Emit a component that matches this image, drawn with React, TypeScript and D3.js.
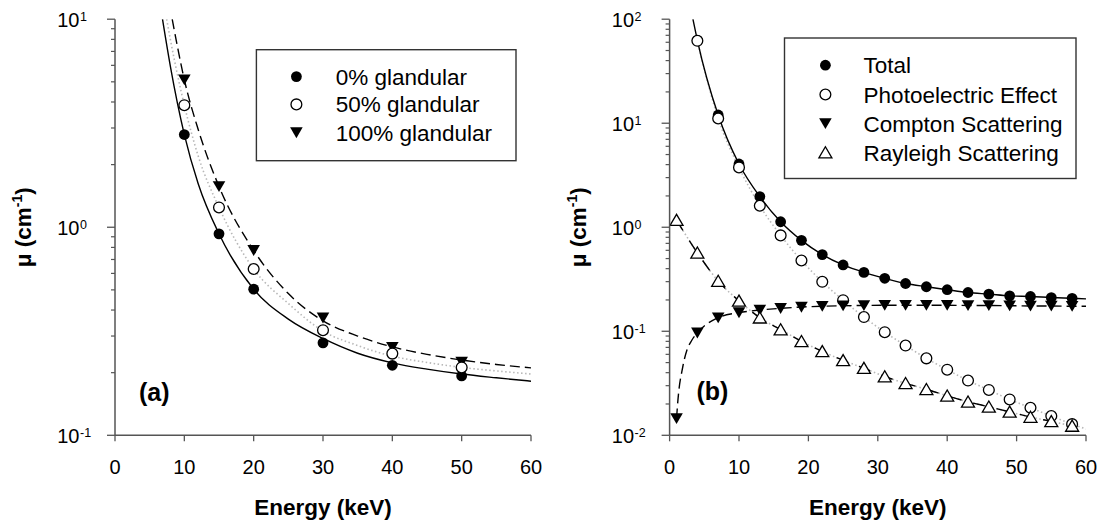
import React from 'react';
import * as d3 from 'd3';

// ---------- Panel (a) data ----------
const energyA = [10, 15, 20, 30, 40, 50];
const gland0 = [2.79, 0.93, 0.504, 0.278, 0.217, 0.193];
const gland50 = [3.86, 1.245, 0.63, 0.32, 0.247, 0.212];
const gland100 = [5.12, 1.57, 0.774, 0.367, 0.265, 0.225];

// fitted curves [E, mu]
const fit0: [number, number][] = [[6.85, 10], [8, 5.9], [10, 2.79], [12, 1.62], [15, 0.93], [20, 0.504], [25, 0.362], [30, 0.292], [35, 0.248], [40, 0.223], [45, 0.208], [50, 0.197], [55, 0.189], [60, 0.182]];
const fit50: [number, number][] = [[7.45, 10], [8, 7.95], [10, 3.86], [12, 2.2], [15, 1.245], [20, 0.63], [25, 0.43], [30, 0.317], [35, 0.27], [40, 0.24], [45, 0.224], [50, 0.212], [55, 0.204], [60, 0.197]];
const fit100: [number, number][] = [[8.25, 10], [9, 7.4], [10, 5.12], [12, 2.95], [15, 1.57], [20, 0.774], [25, 0.48], [30, 0.355], [35, 0.3], [40, 0.266], [45, 0.245], [50, 0.23], [55, 0.219], [60, 0.211]];

const legendA = ['0% glandular', '50% glandular', '100% glandular'];

// ---------- Panel (b) data ----------
const energyB = [1, 4, 7, 10, 13, 16, 19, 22, 25, 28, 31, 34, 37, 40, 43, 46, 49, 52, 55, 58];
const total = [null, 62.7, 12.0, 4.06, 1.97, 1.13, 0.748, 0.546, 0.434, 0.368, 0.323, 0.288, 0.268, 0.251, 0.236, 0.2275, 0.219, 0.216, 0.211, 0.2075];
const photo = [null, 62.0, 11.1, 3.76, 1.61, 0.835, 0.479, 0.299, 0.199, 0.137, 0.098, 0.0729, 0.0549, 0.0427, 0.0336, 0.0273, 0.0221, 0.0184, 0.0153, 0.0128];
const compton = [0.0145, 0.0966, 0.135, 0.151, 0.16, 0.166, 0.171, 0.174, 0.176, 0.177, 0.178, 0.178, 0.178, 0.178, 0.177, 0.177, 0.176, 0.175, 0.175, 0.174];
const rayleigh = [1.17, 0.568, 0.304, 0.196, 0.135, 0.104, 0.0801, 0.0641, 0.0525, 0.0442, 0.0367, 0.0316, 0.0277, 0.024, 0.021, 0.0188, 0.0168, 0.015, 0.0136, 0.0123];

const totalLineStart: [number, number][] = [[3.36, 100]];
const totalLineEnd: [number, number][] = [[60, 0.205]];
const photoLineEnd: [number, number][] = [[60, 0.0115]];
const comptonLead: [number, number][] = [[1.2, 0.0218], [1.9, 0.0456], [2.5, 0.066], [3.2, 0.082]];
const comptonLineEnd: [number, number][] = [[60, 0.174]];

const legendB = ['Total', 'Photoelectric Effect', 'Compton Scattering', 'Rayleigh Scattering'];

const xTicks = [0, 10, 20, 30, 40, 50, 60];

const FONT = "'Liberation Sans', Arial, Helvetica, sans-serif";
const AXIS = '#555';
const DOT = '#b8b8b8';

type Shape = 'fcircle' | 'ocircle' | 'dtri' | 'utri';

function Marker({ shape, x, y }: { shape: Shape; x: number; y: number }) {
  if (shape === 'fcircle') return <circle cx={x} cy={y} r={5.4} fill="#000" />;
  if (shape === 'ocircle') return <circle cx={x} cy={y} r={5.4} fill="#fff" stroke="#000" strokeWidth={1.3} />;
  if (shape === 'dtri')
    return <path d={`M${x - 6.3},${y - 5.3}L${x + 6.3},${y - 5.3}L${x},${y + 5.6}Z`} fill="#000" />;
  return <path d={`M${x - 6.5},${y + 5.3}L${x + 6.5},${y + 5.3}L${x},${y - 5.8}Z`} fill="#fff" stroke="#000" strokeWidth={1.3} />;
}

function Axes({ x, y, decades, id }: { x: d3.ScaleLinear<number, number>; y: d3.ScaleLogarithmic<number, number>; decades: number[]; id: string }) {
  const [x0, x1] = x.range();
  const [yb, yt] = y.range();
  const minors: number[] = [];
  for (let i = 0; i < decades.length - 1; i++) {
    for (let k = 2; k <= 9; k++) minors.push(k * Math.pow(10, decades[i]));
  }
  return (
    <g key={id}>
      <line x1={x0} x2={x0} y1={yt} y2={yb} stroke={AXIS} strokeWidth={1.5} />
      <line x1={x0} x2={x1} y1={yb} y2={yb} stroke={AXIS} strokeWidth={1.5} />
      {decades.map((d) => {
        const yy = y(Math.pow(10, d));
        return (
          <g key={'maj' + d}>
            <line x1={x0 - 8} x2={x0} y1={yy} y2={yy} stroke={AXIS} strokeWidth={1.3} />
            <text x={x0 - 35.5} y={yy + 7.5} textAnchor="end" fontSize={20} fontFamily={FONT} fill="#000">10</text>
            <text x={x0 - 35} y={yy + 1.5} textAnchor="start" fontSize={12.5} fontFamily={FONT} fill="#000">{String(d)}</text>
          </g>
        );
      })}
      {minors.map((m, i) => (
        <line key={'min' + i} x1={x0 - 4} x2={x0} y1={y(m)} y2={y(m)} stroke={AXIS} strokeWidth={1.2} />
      ))}
      {xTicks.map((t) => (
        <g key={'xt' + t}>
          <line x1={x(t)} x2={x(t)} y1={yb} y2={yb + 6} stroke={AXIS} strokeWidth={1.3} />
          <text x={x(t)} y={473.5} textAnchor="middle" fontSize={20} fontFamily={FONT} fill="#000">{t}</text>
        </g>
      ))}
      <text x={(x0 + x1) / 2} y={514.5} textAnchor="middle" fontSize={22.5} fontWeight="bold" fontFamily={FONT} fill="#000">Energy (keV)</text>
      <text transform={`translate(${x0 - 84},${(yt + yb) / 2}) rotate(-90)`} textAnchor="middle" fontSize={22.5} fontWeight="bold" fontFamily={FONT} fill="#000">
        μ (cm<tspan dy={-9} fontSize={14}>-1</tspan><tspan dy={9}>)</tspan>
      </text>
    </g>
  );
}

export default function App() {
  const yRange: [number, number] = [435.3, 19.2];
  const xa = d3.scaleLinear().domain([0, 60]).range([115, 531]);
  const ya = d3.scaleLog().domain([0.1, 10]).range(yRange);
  const xb = d3.scaleLinear().domain([0, 60]).range([669.6, 1086]);
  const yb = d3.scaleLog().domain([0.01, 100]).range(yRange);

  const lineA = d3.line<[number, number]>().x((d) => xa(d[0])).y((d) => ya(d[1])).curve(d3.curveMonotoneX);
  const lineB = d3.line<[number, number]>().x((d) => xb(d[0])).y((d) => yb(d[1])).curve(d3.curveMonotoneX);

  const pairs = (vals: (number | null)[]) =>
    energyB.map((e, i) => [e, vals[i]] as [number, number | null]).filter((p) => p[1] != null) as [number, number][];

  const totalPts = pairs(total);
  const photoPts = pairs(photo);
  const comptonPts = pairs(compton);
  const rayPts = pairs(rayleigh);

  const totalLine = [...totalLineStart, ...totalPts, ...totalLineEnd];
  const photoLine = [...photoPts, ...photoLineEnd];
  const comptonLine = [comptonPts[0], ...comptonLead, ...comptonPts.slice(1), ...comptonLineEnd];

  const seriesA: { vals: number[]; shape: Shape }[] = [
    { vals: gland0, shape: 'fcircle' },
    { vals: gland100, shape: 'dtri' },
    { vals: gland50, shape: 'ocircle' },
  ];
  const legendShapesA: Shape[] = ['fcircle', 'ocircle', 'dtri'];
  const legendYA = [76.6, 104.4, 132.6];
  const legendShapesB: Shape[] = ['fcircle', 'ocircle', 'dtri', 'utri'];
  const legendYB = [65.2, 94.5, 123.5, 152.5];

  return (
    <svg width={1104} height={527} style={{ position: 'absolute', left: 0, top: 0, background: '#fff' }}>
      <defs>
        <clipPath id="clipA"><rect x={115} y={19.2} width={416} height={416.1} /></clipPath>
        <clipPath id="clipB"><rect x={669.6} y={19.2} width={416.4} height={416.1} /></clipPath>
      </defs>
      <rect x={0} y={0} width={1104} height={527} fill="#fff" />

      {/* ---- Panel (a) ---- */}
      <g clipPath="url(#clipA)">
        <path d={lineA(fit50) || ''} fill="none" stroke={DOT} strokeWidth={1.6} strokeDasharray="1.5,2.5" />
        <path d={lineA(fit0) || ''} fill="none" stroke="#000" strokeWidth={1.4} />
        <path d={lineA(fit100) || ''} fill="none" stroke="#000" strokeWidth={1.4} strokeDasharray="10,5" />
      </g>
      {seriesA.map((s, si) => (
        <g key={'sa' + si}>
          {energyA.map((e, i) => <Marker key={i} shape={s.shape} x={xa(e)} y={ya(s.vals[i])} />)}
        </g>
      ))}
      <Axes x={xa} y={ya} decades={[-1, 0, 1]} id="a" />
      <rect x={256.4} y={49.7} width={259.6} height={111} fill="#fff" stroke="#333" strokeWidth={1.4} />
      {legendA.map((t, i) => (
        <g key={'la' + i}>
          <Marker shape={legendShapesA[i]} x={296.4} y={legendYA[i]} />
          <text x={335.7} y={legendYA[i] + 8} fontSize={22.5} fontFamily={FONT} fill="#000">{t}</text>
        </g>
      ))}
      <text x={139} y={401} fontSize={25} fontWeight="bold" fontFamily={FONT} fill="#000">(a)</text>

      {/* ---- Panel (b) ---- */}
      <g clipPath="url(#clipB)">
        <path d={lineB(photoLine) || ''} fill="none" stroke={DOT} strokeWidth={1.6} strokeDasharray="1.5,2.5" />
        <path d={lineB(rayPts) || ''} fill="none" stroke={DOT} strokeWidth={1.6} strokeDasharray="1.5,2.5" />
        <path d={lineB(rayPts) || ''} fill="none" stroke="#000" strokeWidth={1.4} strokeDasharray="12,12" />
        <path d={lineB(comptonLine) || ''} fill="none" stroke="#000" strokeWidth={1.4} strokeDasharray="10,5" />
        <path d={lineB(totalLine) || ''} fill="none" stroke="#000" strokeWidth={1.4} />
      </g>
      {totalPts.map((p, i) => <Marker key={'t' + i} shape="fcircle" x={xb(p[0])} y={yb(p[1])} />)}
      {photoPts.map((p, i) => <Marker key={'p' + i} shape="ocircle" x={xb(p[0])} y={yb(p[1])} />)}
      {comptonPts.map((p, i) => <Marker key={'c' + i} shape="dtri" x={xb(p[0])} y={yb(p[1])} />)}
      {rayPts.map((p, i) => <Marker key={'r' + i} shape="utri" x={xb(p[0])} y={yb(p[1])} />)}
      <Axes x={xb} y={yb} decades={[-2, -1, 0, 1, 2]} id="b" />
      <rect x={784.5} y={38} width={291.5} height={140.5} fill="#fff" stroke="#333" strokeWidth={1.4} />
      {legendB.map((t, i) => (
        <g key={'lb' + i}>
          <Marker shape={legendShapesB[i]} x={825.4} y={legendYB[i]} />
          <text x={863.6} y={legendYB[i] + 8} fontSize={22.5} fontFamily={FONT} fill="#000">{t}</text>
        </g>
      ))}
      <text x={696.5} y={400} fontSize={25} fontWeight="bold" fontFamily={FONT} fill="#000">(b)</text>
    </svg>
  );
}
